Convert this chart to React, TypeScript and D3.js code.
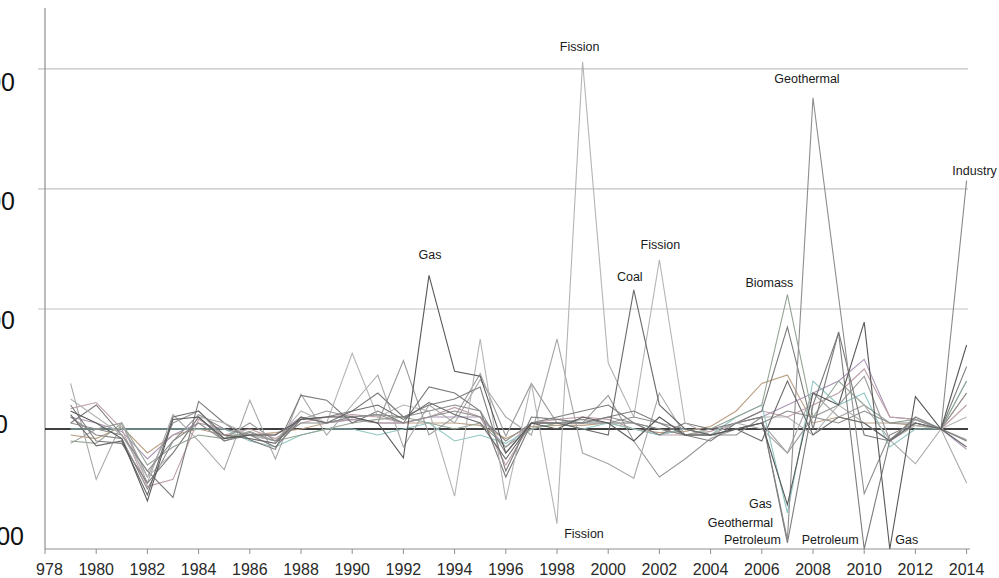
import React, { useEffect, useRef } from 'react';
import * as d3 from 'd3';

// year-on-year change (%), 1979..2014
const years = [
  1979, 1980, 1981, 1982, 1983, 1984, 1985, 1986, 1987, 1988, 1989, 1990,
  1991, 1992, 1993, 1994, 1995, 1996, 1997, 1998, 1999, 2000, 2001, 2002,
  2003, 2004, 2005, 2006, 2007, 2008, 2009, 2010, 2011, 2012, 2013, 2014,
];

const coal = [12, -14, -10, -55, 10, 15, -5, -8, -12, 10, 5, 15, 20, 8, 22, 12, 5, -25, 5, 5, 0, -5, 116, 20, 0, -5, 0, -10, 40, -5, 10, 5, -10, 5, 0, -15];
const gas = [15, 5, -8, -60, 8, 10, -8, -5, -5, 8, 10, 10, 5, -24, 128, 48, 44, -20, 5, 0, 10, 5, -10, 10, -5, -5, 0, 5, -63, 30, 20, 89, -100, 27, 0, 70];
const petroleum = [20, -10, -12, -45, -20, 10, -10, -5, -15, 8, 10, 15, 30, 10, 20, 25, 35, -35, 10, 8, 5, 10, 15, 5, -5, -10, 5, 10, -95, 20, 80, -100, -9, 5, 0, -10];
const fission = [25, 10, -5, -40, -20, 10, 5, -5, -10, 15, 5, 63, 10, 20, 15, -56, 75, -59, 38, -79, 306, 55, 10, 141, 5, -5, 5, 10, 10, -5, 20, 5, -10, 3, 0, 10];
const geothermal = [5, 0, -5, -35, -10, 5, -10, -3, -10, 5, 5, 10, 12, 5, 10, 15, 10, -10, 5, 5, 8, 5, 10, 5, 0, -5, -5, 10, -92, 276, 110, -54, -5, 5, 0, 30];
const biomass = [-10, -12, 5, -30, -15, -5, -8, -2, -10, -5, 0, 5, 8, 10, 5, 0, 5, -15, 0, 5, 5, 5, 5, 0, -5, 0, 10, 20, 112, 10, 40, 20, 5, 8, 0, 40];
const industry = [10, -5, -8, -50, -10, 12, 0, -5, -10, 10, 5, 10, 12, 10, 15, 20, 15, -20, 5, 5, 5, 10, 5, 0, -5, -5, 0, 5, 15, 10, 5, 15, 5, 5, 0, 207];
const hydro = [38, -42, 5, -45, 12, -10, -34, 24, -25, 29, -5, 20, 45, -15, 20, 5, 41, 10, -5, 75, -20, -29, -41, 30, -5, -5, 5, 0, -20, 30, 10, 20, -9, -29, 0, -45];
const solar = [0, 0, 0, 0, 0, 0, 0, -10, -15, -5, 0, 0, -5, 0, 5, -10, -5, -12, 0, 5, 0, 5, 0, -5, 0, -5, 10, 20, -70, 40, 20, 30, -15, 0, 0, 40];
const wind = [5, 20, -5, -35, -57, 23, 5, -9, -17, 28, 24, 5, 15, 5, 35, 30, 15, -40, 5, 10, 15, 20, 5, -5, 5, 0, 5, 15, 85, 0, 81, -5, -10, 10, 0, 52];
const residential = [17, 22, 0, -48, -42, 8, -5, 0, -8, 5, 10, 12, 10, 5, 10, 18, 10, -30, 5, 8, 10, 8, 0, -5, -5, -2, 5, 15, 10, 20, 30, 50, 10, 8, 0, 20];
const commercial = [-12, 0, 5, -40, 5, 15, -8, 5, -10, 8, 15, 10, 5, 57, -5, 10, 46, -6, 38, 5, 5, 28, -10, -40, -25, -8, 0, 5, -20, 10, 20, 44, -9, 8, 0, -9];
const transportation = [-5, -8, 2, -20, -5, 0, -5, -5, -3, 0, 5, 8, 5, 5, 5, 5, 3, -8, 2, 3, 3, 5, 0, -3, -2, 2, 15, 38, 45, 5, 10, 5, 5, 3, 0, 30];
const electricity = [10, 5, -2, -25, -5, 5, 0, -5, -5, 10, 5, 8, 5, 5, 10, 10, 10, -15, 5, 5, 5, 5, 5, -5, 0, -5, 5, 10, 20, 30, 40, 58, 10, 8, 0, -17];

const series = [
  { name: 'Transportation', values: transportation },
  { name: 'Electricity', values: electricity },
  { name: 'Residential', values: residential },
  { name: 'Solar', values: solar },
  { name: 'Biomass', values: biomass },
  { name: 'Commercial', values: commercial },
  { name: 'Hydro', values: hydro },
  { name: 'Wind', values: wind },
  { name: 'Industry', values: industry },
  { name: 'Fission', values: fission },
  { name: 'Geothermal', values: geothermal },
  { name: 'Petroleum', values: petroleum },
  { name: 'Coal', values: coal },
  { name: 'Gas', values: gas },
];

const yTicks = [300, 200, 100, 0, -100];
const xTicks = [1978, 1980, 1982, 1984, 1986, 1988, 1990, 1992, 1994, 1996, 1998, 2000, 2002, 2004, 2006, 2008, 2010, 2012, 2014];

// labelled extremes: series, year
const notes = [
  { name: 'Fission', year: 1999 },
  { name: 'Gas', year: 1993 },
  { name: 'Coal', year: 2001 },
  { name: 'Fission', year: 2002 },
  { name: 'Biomass', year: 2007 },
  { name: 'Geothermal', year: 2008 },
  { name: 'Industry', year: 2014 },
  { name: 'Gas', year: 2007 },
  { name: 'Geothermal', year: 2007 },
  { name: 'Petroleum', year: 2007 },
  { name: 'Fission', year: 1998 },
  { name: 'Petroleum', year: 2010 },
  { name: 'Gas', year: 2011 },
];

// styling / layout
const colors: Record<string, string> = {
  Coal: '#6a6a6a', Gas: '#585858', Petroleum: '#7c7c7c', Fission: '#b4b4b4',
  Geothermal: '#8e8e8e', Biomass: '#94a394', Industry: '#8a8a8a', Hydro: '#a8a8a8',
  Solar: '#8fc6c2', Wind: '#7a7a7a', Residential: '#bea0a7', Commercial: '#999999',
  Transportation: '#bca084', Electricity: '#ab96b5',
};
const noteOffsets = [
  [-3, -11], [1, -16], [-4, -9], [1, -11], [-18, -8], [-6, -15], [8, -6],
  [-27, 3], [-47, -12], [-35, 1], [27, 14], [-34, -5], [17, -5],
];
// the y labels in the original are cropped at the left edge: [right edge, centre y]
const yLabelPos: Record<number, [number, number]> = {
  300: [15, 82], 200: [15, 201], 100: [15, 320], 0: [8, 424], [-100]: [24, 536],
};

const App: React.FC = () => {
  const svgRef = useRef<SVGSVGElement>(null);

  useEffect(() => {
    if (!svgRef.current) return;
    const width = 999;
    const height = 578;
    const svg = d3.select(svgRef.current);
    svg.selectAll('*').remove();
    svg.attr('width', width).attr('height', height);

    const x = d3.scaleLinear().domain([1978, 2014]).range([45, 966.6]);
    const y = d3.scaleLinear().domain([-100, 350.8]).range([549, 8]);
    const font = '"Liberation Sans", Arial, sans-serif';

    svg.append('rect').attr('width', width).attr('height', height).attr('fill', '#fff');

    // gridlines
    svg.append('g')
      .selectAll('line')
      .data(yTicks.filter((d) => d !== 0 && d !== -100))
      .enter()
      .append('line')
      .attr('x1', 38)
      .attr('x2', 968)
      .attr('y1', (d) => y(d))
      .attr('y2', (d) => y(d))
      .attr('stroke', '#c2c2c2')
      .attr('stroke-width', 1.2);

    // y axis
    svg.append('line')
      .attr('x1', x(1978)).attr('x2', x(1978))
      .attr('y1', 8).attr('y2', y(-100))
      .attr('stroke', '#8f8f8f').attr('stroke-width', 1.2);

    svg.append('g')
      .selectAll('text')
      .data(yTicks)
      .enter()
      .append('text')
      .attr('x', (d) => yLabelPos[d][0])
      .attr('y', (d) => yLabelPos[d][1])
      .attr('text-anchor', 'end')
      .attr('dominant-baseline', 'central')
      .attr('font-family', font)
      .attr('font-size', 25)
      .attr('fill', '#111')
      .text((d) => String(d));

    // x axis
    const clip = svg.append('defs').append('clipPath').attr('id', 'xclip');
    clip.append('rect').attr('x', 36).attr('y', 0).attr('width', width).attr('height', height);

    svg.append('line')
      .attr('x1', x(1978)).attr('x2', 970)
      .attr('y1', y(-100)).attr('y2', y(-100))
      .attr('stroke', '#8f8f8f').attr('stroke-width', 1.2);

    const xa = svg.append('g').attr('clip-path', 'url(#xclip)');
    xa.selectAll('line')
      .data(xTicks)
      .enter()
      .append('line')
      .attr('x1', (d) => x(d)).attr('x2', (d) => x(d))
      .attr('y1', y(-100)).attr('y2', y(-100) + 5)
      .attr('stroke', '#8f8f8f');
    xa.selectAll('text')
      .data(xTicks)
      .enter()
      .append('text')
      .attr('x', (d) => x(d))
      .attr('y', 575)
      .attr('text-anchor', 'middle')
      .attr('font-family', font)
      .attr('font-size', 16)
      .attr('fill', '#2a2a2a')
      .text((d) => String(d));

    // zero line
    svg.append('line')
      .attr('x1', x(1978)).attr('x2', 968)
      .attr('y1', y(0)).attr('y2', y(0))
      .attr('stroke', '#000').attr('stroke-width', 1.6);

    // series
    const line = d3.line<number>()
      .x((_, i) => x(years[i]))
      .y((d) => y(d));

    svg.append('g')
      .selectAll('path')
      .data(series)
      .enter()
      .append('path')
      .attr('d', (d) => line(d.values)!)
      .attr('fill', 'none')
      .attr('stroke', (d) => colors[d.name])
      .attr('stroke-width', 1.1)
      .attr('stroke-linejoin', 'miter');

    // annotations
    svg.append('g')
      .selectAll('text')
      .data(notes)
      .enter()
      .append('text')
      .attr('x', (d, i) => x(d.year) + noteOffsets[i][0])
      .attr('y', (d, i) => {
        const s = series.find((t) => t.name === d.name)!;
        return y(s.values[years.indexOf(d.year)]) + noteOffsets[i][1];
      })
      .attr('text-anchor', 'middle')
      .attr('font-family', font)
      .attr('font-size', 12.5)
      .attr('fill', '#1a1a1a')
      .text((d) => d.name);
  }, []);

  return (
    <div style={{ position: 'fixed', left: 0, top: 0, width: 999, height: 578, background: '#fff' }}>
      <svg ref={svgRef} style={{ display: 'block' }}></svg>
    </div>
  );
};

export default App;
